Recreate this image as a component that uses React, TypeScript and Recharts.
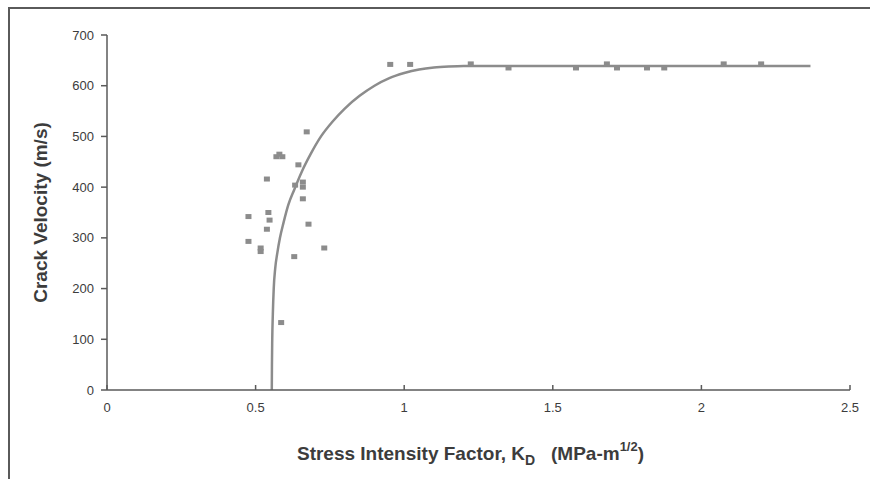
import { ComposedChart, Line, Scatter, XAxis, YAxis } from 'recharts'

// measured crack velocities (K, m/s)
const kMeasured = [
  0.476, 0.476, 0.517, 0.517, 0.538, 0.538, 0.543, 0.547, 0.57, 0.58, 0.59,
  0.586, 0.63, 0.633, 0.644, 0.659, 0.659, 0.659, 0.672, 0.678, 0.731,
  0.953, 1.02, 1.224, 1.351, 1.578, 1.682, 1.716, 1.817, 1.875, 2.075, 2.201,
]
const vMeasured = [
  342, 293, 280, 273, 416, 317, 350, 335, 460, 465, 460,
  133, 263, 404, 444, 410, 400, 377, 509, 327, 280,
  642, 642, 643, 635, 635, 643, 635, 635, 635, 643, 643,
]

// fitted curve
const kFit = [
  0.5545, 0.555, 0.556, 0.558, 0.561, 0.566, 0.573, 0.582, 0.594, 0.61, 0.63,
  0.655, 0.685, 0.72, 0.76, 0.8, 0.85, 0.9, 0.95, 1.0, 1.05, 1.1, 1.15, 1.2,
  1.6, 2.0, 2.367,
]
const vFit = [
  0, 50, 100, 150, 200, 240, 270, 300, 330, 365, 395,
  430, 465, 500, 530, 555, 580, 600, 615, 625, 632, 636, 638, 639,
  639, 639, 639,
]

const xTicks = [0, 0.5, 1, 1.5, 2, 2.5]
const yTicks = [0, 100, 200, 300, 400, 500, 600, 700]

const points = kMeasured.map((k, i) => ({ k, v: vMeasured[i] }))
const curve = kFit.map((k, i) => ({ k, v: vFit[i] }))

const grey = '#8c8c8c'
const axisColor = '#5a5a5a'
const textColor = '#3c3c3c'
const sans = "'Liberation Sans', Arial, sans-serif"

const Square = (props: any) => (
  <rect x={props.cx - 3} y={props.cy - 2.5} width={6} height={5} fill={grey} />
)

const YTitle = ({ viewBox }: any) => {
  const cx = viewBox.x + 18
  const cy = viewBox.y + viewBox.height / 2
  return (
    <text
      x={cx}
      y={cy}
      transform={`rotate(-90 ${cx} ${cy})`}
      textAnchor="middle"
      dominantBaseline="central"
      fontFamily={sans}
      fontWeight="bold"
      fontSize={19}
      fill={textColor}
    >
      Crack Velocity (m/s)
    </text>
  )
}

const XTitle = ({ viewBox }: any) => {
  const x = viewBox.x + viewBox.width / 2 - 8
  const y = viewBox.y + 70
  return (
    <text
      x={x}
      y={y}
      textAnchor="middle"
      fontFamily={sans}
      fontWeight="bold"
      fontSize={19}
      fill={textColor}
    >
      <tspan>Stress Intensity Factor, K</tspan>
      <tspan dy={5} fontSize={14}>D</tspan>
      <tspan dy={-5} xmlSpace="preserve">{'   (MPa-m'}</tspan>
      <tspan dy={-9} fontSize={13}>{'1/2'}</tspan>
      <tspan dy={9}>)</tspan>
    </text>
  )
}

export default function App() {
  return (
    <div
      style={{
        position: 'fixed',
        left: 0,
        top: 0,
        width: 870,
        height: 479,
        background: '#fff',
        overflow: 'hidden',
      }}
    >
      <div
        style={{
          position: 'absolute',
          left: 8,
          top: 7,
          width: 900,
          height: 500,
          borderLeft: `2px solid ${axisColor}`,
          borderTop: `2px solid ${axisColor}`,
        }}
      />
      <div style={{ position: 'absolute', left: 0, top: 0 }}>
        <ComposedChart
          width={870}
          height={479}
          margin={{ top: 35, right: 20, bottom: 59, left: 22 }}
        >
          <XAxis
            type="number"
            dataKey="k"
            domain={[0, 2.5]}
            ticks={xTicks}
            allowDataOverflow
            height={30}
            stroke={axisColor}
            strokeWidth={1.5}
            tickSize={-5}
            tickMargin={18}
            tick={{ fill: textColor, fontSize: 13, fontFamily: sans }}
            label={<XTitle />}
          />
          <YAxis
            type="number"
            dataKey="v"
            domain={[0, 700]}
            ticks={yTicks}
            width={85}
            stroke={axisColor}
            strokeWidth={1.5}
            tickSize={6}
            tickMargin={7}
            tick={{ fill: textColor, fontSize: 13, fontFamily: sans }}
            label={<YTitle />}
          />
          <Line
            data={curve}
            dataKey="v"
            type="monotone"
            stroke={grey}
            strokeWidth={2.5}
            dot={false}
            activeDot={false}
            isAnimationActive={false}
          />
          <Scatter
            data={points}
            dataKey="v"
            shape={<Square />}
            isAnimationActive={false}
          />
        </ComposedChart>
      </div>
    </div>
  )
}
